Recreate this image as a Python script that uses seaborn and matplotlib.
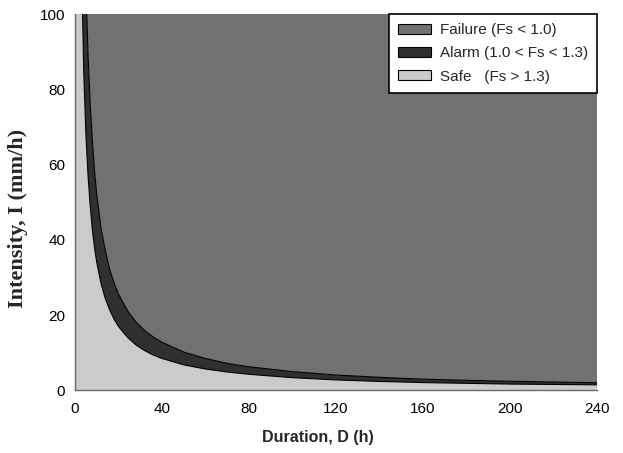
import numpy as np
import pandas as pd
import matplotlib
matplotlib.use("Agg")
import matplotlib.pyplot as plt
from matplotlib.patches import Patch
import seaborn as sns

# Rainfall duration (h) and the intensity thresholds (mm/h) bounding each zone
duration = [0, 1, 2, 3, 4, 5, 6, 7, 8, 9, 10, 12, 14, 16, 18, 20, 24, 28, 32,
            36, 40, 50, 60, 70, 80, 100, 120, 140, 160, 180, 200, 220, 240]
# Fs = 1.3 threshold (upper edge of the safe zone)
safe_limit = [1000, 340, 170, 113, 85, 68, 57, 49, 42.5, 37.8, 34, 28.3, 24.3,
              21.3, 18.9, 17, 14.2, 12.1, 10.6, 9.4, 8.5, 6.8, 5.7, 4.9, 4.3,
              3.4, 2.8, 2.4, 2.1, 1.9, 1.7, 1.6, 1.5]
# Fs = 1.0 threshold (upper edge of the alarm zone)
alarm_limit = [1500, 550, 275, 183, 136, 108, 89, 76, 66, 58, 52, 43, 37, 32,
               28.5, 25.6, 21.3, 18.2, 15.9, 14.2, 12.8, 10.2, 8.5, 7.2, 6.3,
               5.0, 4.1, 3.5, 3.0, 2.7, 2.45, 2.25, 2.05]

zone_labels = ["Failure (Fs < 1.0)", "Alarm (1.0 < Fs < 1.3)", "Safe   (Fs > 1.3)"]
zone_colors = ["#717171", "#303030", "#cbcbcb"]

x_ticks = [0, 40, 80, 120, 160, 200, 240]
y_ticks = [0, 20, 40, 60, 80, 100]

df = pd.DataFrame({"D": duration, "safe": safe_limit, "alarm": alarm_limit})

sns.set_style("white")
plt.rcParams["font.family"] = ["Liberation Sans", "DejaVu Sans"]

fig = plt.figure(figsize=(6.23, 4.53), dpi=100)
ax = fig.add_axes([0.1204, 0.138, 0.838, 0.831])

y_top = y_ticks[-1]
ax.fill_between(df["D"], 0, df["safe"], color=zone_colors[2], lw=0, zorder=1)
ax.fill_between(df["D"], df["safe"], df["alarm"], color=zone_colors[1], lw=0, zorder=1)
ax.fill_between(df["D"], df["alarm"], y_top, color=zone_colors[0], lw=0, zorder=1)

sns.lineplot(data=df, x="D", y="safe", ax=ax, color="black", lw=0.8, zorder=2)
sns.lineplot(data=df, x="D", y="alarm", ax=ax, color="black", lw=0.8, zorder=2)

ax.set_xlim(x_ticks[0], x_ticks[-1])
ax.set_ylim(y_ticks[0], y_top)
ax.set_xticks(x_ticks)
ax.set_yticks(y_ticks)
ax.tick_params(axis="both", length=0, labelsize=11, colors="black")
ax.tick_params(axis="x", pad=8)
ax.tick_params(axis="y", pad=7)

for side in ["top", "right"]:
    ax.spines[side].set_visible(False)
for side in ["left", "bottom"]:
    ax.spines[side].set_color("#6a6a6a")
    ax.spines[side].set_linewidth(1.0)
    ax.spines[side].set_zorder(3)

ax.set_xlabel("Duration, D (h)", fontsize=11.5, fontweight="bold", va="center")
ax.xaxis.set_label_coords(0.4655, -0.126)
ax.set_ylabel("Intensity, I (mm/h)", fontsize=16, fontweight="bold",
              family=["Liberation Serif", "DejaVu Serif"], va="center")
ax.yaxis.set_label_coords(-0.11, 0.457)

handles = [Patch(facecolor=c, edgecolor="black", lw=0.8) for c in zone_colors]
leg = ax.legend(handles, zone_labels, loc="upper right", bbox_to_anchor=(1.0, 1.0),
                borderaxespad=0.0, fontsize=11, frameon=True, fancybox=False,
                framealpha=1, edgecolor="black", borderpad=0.6,
                handlelength=2.15, handleheight=0.65, handletextpad=0.6,
                labelspacing=0.6)
leg.get_frame().set_linewidth(1.2)
leg.set_zorder(5)

fig.savefig("out.png", dpi=100)
